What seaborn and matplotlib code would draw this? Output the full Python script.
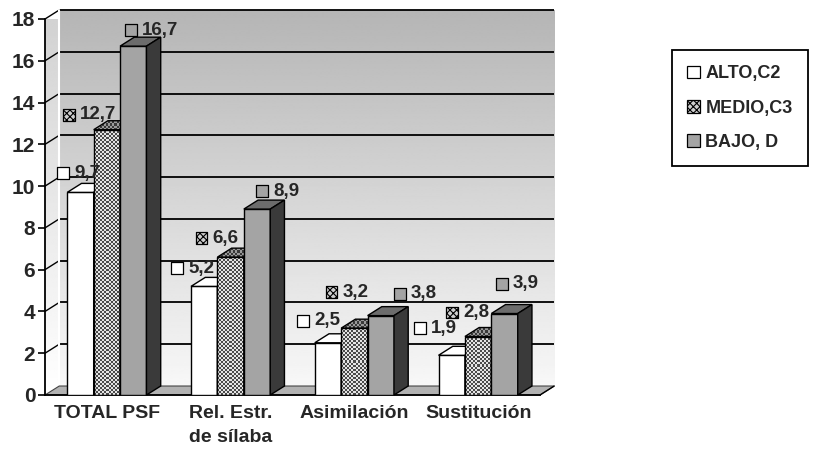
import numpy as np
import pandas as pd
import matplotlib
matplotlib.use("Agg")
import matplotlib.pyplot as plt
import seaborn as sns
from matplotlib.patches import Polygon, Patch
from matplotlib.transforms import ScaledTranslation

# ---- data -------------------------------------------------------------
categories = ["TOTAL PSF", "Rel. Estr.\nde sílaba", "Asimilación", "Sustitución"]
series = ["ALTO,C2", "MEDIO,C3", "BAJO, D"]
alto = [9.7, 5.2, 2.5, 1.9]
medio = [12.7, 6.6, 3.2, 2.8]
bajo = [16.7, 8.9, 3.8, 3.9]
y_ticks = [0, 2, 4, 6, 8, 10, 12, 14, 16, 18]

# label nudges (pixels: right, up) of the marker square relative to bar top
label_nudge = {
    "ALTO,C2": [(-17, 19), (-27, 18), (-25, 22), (-32, 27)],
    "MEDIO,C3": [(-38, 15), (-29, 19), (-23, 36), (-26, 24)],
    "BAJO, D": [(-2, 16), (5, 18), (19, 22), (-3, 30)],
}

values = {"ALTO,C2": alto, "MEDIO,C3": medio, "BAJO, D": bajo}
df = pd.DataFrame(
    [(c, s, values[s][i]) for s in series for i, c in enumerate(categories)],
    columns=["categoria", "serie", "valor"],
)

# ---- style ------------------------------------------------------------
sns.set_theme(style="white")
plt.rcParams["font.family"] = ["Liberation Sans", "DejaVu Sans"]
plt.rcParams["font.weight"] = "bold"
plt.rcParams["hatch.linewidth"] = 0.8
plt.rcParams["hatch.color"] = "black"

face = {"ALTO,C2": "white", "MEDIO,C3": "#bdbdbd", "BAJO, D": "#a4a4a4"}
top_face = {"ALTO,C2": "white", "MEDIO,C3": "#777777", "BAJO, D": "#6c6c6c"}
side_face = {"ALTO,C2": "#d8d8d8", "MEDIO,C3": "#555555", "BAJO, D": "#3a3a3a"}
checker = {"MEDIO,C3": ("#4a4a4a", "#e4e4e4")}
checker_top = {"MEDIO,C3": ("#3a3a3a", "#9a9a9a")}

DX, DY = 0.115, 0.43          # depth offset of the pseudo-3D walls/bars
XL, XR, YMAX = -0.5, 3.5, 18

fig = plt.figure(figsize=(8.27, 4.59), dpi=100)
ax = fig.add_axes([45 / 827, 64 / 459, 495 / 827, 376 / 459])

# ---- bars (front faces) -------------------------------------------------
sns.barplot(
    data=df, x="categoria", y="valor", hue="serie",
    order=categories, hue_order=series,
    palette=[face[s] for s in series], saturation=1,
    width=0.64, gap=0, edgecolor="black", linewidth=1.0,
    legend=False, ax=ax, zorder=3,
)
ax.set_xlim(XL, XR)
ax.set_ylim(0, YMAX)

PX_X = 495 / (XR - XL)     # pixels per category unit
PX_Y = 376 / YMAX          # pixels per value unit


def checker_fill(patch, extent, colors, z):
    """Fill a patch with a fine two-pixel dither pattern."""
    x0, x1, y0, y1 = extent
    nx = max(2, int(round((x1 - x0) * PX_X / 2)))
    ny = max(2, int(round((y1 - y0) * PX_Y / 2)))
    grid = (np.add.outer(np.arange(ny), np.arange(nx)) % 2).astype(float)
    cmap = matplotlib.colors.ListedColormap(list(colors))
    im = ax.imshow(grid, extent=(x0, x1, y0, y1), origin="lower", aspect="auto",
                   cmap=cmap, vmin=0, vmax=1, interpolation="nearest", zorder=z)
    im.set_clip_path(patch)
    return im


# ---- back wall with vertical gradient ------------------------------------
grad = np.linspace(0.71, 0.97, 256)[:, None]
wall = ax.imshow(grad, extent=(XL + DX, XR + DX, DY, YMAX + DY), origin="upper",
                 aspect="auto", cmap="gray", vmin=0, vmax=1, zorder=0.5,
                 interpolation="bilinear")
wall.set_clip_on(False)
grad = np.linspace(0.82, 1.0, 256)[:, None]
side_img = ax.imshow(grad, extent=(XL, XL + DX, 0, YMAX + DY), origin="upper",
                     aspect="auto", cmap="gray", vmin=0, vmax=1, zorder=0.6,
                     interpolation="bilinear")
side_poly = Polygon([(XL, 0), (XL + DX, DY), (XL + DX, YMAX + DY), (XL, YMAX)],
                    closed=True, transform=ax.transData, facecolor="none",
                    edgecolor="none")
ax.add_patch(side_poly)
side_img.set_clip_path(side_poly)

# floor
ax.add_patch(Polygon([(XL, 0), (XR, 0), (XR + DX, DY), (XL + DX, DY)], closed=True,
                     facecolor="#b2b2b2", edgecolor="#444444", linewidth=0.8,
                     zorder=1.5, clip_on=False))

# grid lines on back wall and side wall
for v in y_ticks[1:]:
    ax.plot([XL + DX, XR + DX], [v + DY, v + DY], color="black", lw=1.3,
            zorder=1, clip_on=False, solid_capstyle="butt")
    ax.plot([XL, XL + DX], [v, v + DY], color="black", lw=1.0,
            zorder=1, clip_on=False)
ax.plot([XL + DX, XL + DX], [DY, YMAX + DY], color="white", lw=1.5, zorder=1.2,
        clip_on=False)

# ---- 3D tops / sides and value labels ----------------------------------
for j, (s, cont) in enumerate(zip(series, ax.containers)):
    z = 3 + j
    for i, rect in enumerate(cont):
        rect.set_zorder(z + 0.05)
        x0, w, h = rect.get_x(), rect.get_width(), rect.get_height()
        top = Polygon([(x0, h), (x0 + w, h), (x0 + w + DX, h + DY), (x0 + DX, h + DY)],
                      closed=True, facecolor=top_face[s], edgecolor="black",
                      linewidth=1.0, zorder=z + 0.05, clip_on=False)
        side = Polygon([(x0 + w, 0), (x0 + w + DX, DY), (x0 + w + DX, h + DY), (x0 + w, h)],
                       closed=True, facecolor=side_face[s], edgecolor="black",
                       linewidth=1.0, zorder=z + 0.05, clip_on=False)
        ax.add_patch(top)
        ax.add_patch(side)
        if s in checker:
            checker_fill(rect, (x0, x0 + w, 0, h), checker[s], z)
            checker_fill(top, (x0, x0 + w + DX, h, h + DY), checker_top[s], z)
            checker_fill(side, (x0 + w, x0 + w + DX, 0, h + DY), checker_top[s], z)
            for p in (rect, top, side):
                p.set_facecolor("none")

        nx, ny = label_nudge[s][i]
        cx = x0 + w / 2
        off = ScaledTranslation(nx / 100, ny / 100, fig.dpi_scale_trans)
        sq = ax.scatter([cx], [h], marker="s", s=70, facecolor=face[s] if s != "MEDIO,C3" else "#cfcfcf",
                        edgecolor="black", linewidths=0.9, zorder=20,
                        transform=ax.transData + off, clip_on=False)
        if s in checker:
            sq.set_hatch("xxxxx")
        toff = ScaledTranslation((nx + 11) / 100, ny / 100, fig.dpi_scale_trans)
        ax.text(cx, h, f"{values[s][i]:.1f}".replace(".", ","), transform=ax.transData + toff,
                ha="left", va="center", fontsize=13.5, fontweight="bold", zorder=21,
                clip_on=False)

# ---- axes ----------------------------------------------------------------
ax.set_xlim(XL, XR)
ax.set_ylim(0, YMAX)
ax.set_yticks(y_ticks)
ax.set_yticklabels([str(t) for t in y_ticks], fontsize=15, fontweight="bold")
ax.set_xticks(range(len(categories)))
ax.set_xticklabels(categories, fontsize=14, fontweight="bold", linespacing=1.55)
ax.set_xticks([XL + k for k in range(len(categories) + 1)], minor=True)
ax.tick_params(axis="x", which="major", length=0, pad=7)
ax.tick_params(axis="x", which="minor", length=5, width=1.2, color="black", direction="out")
ax.tick_params(axis="y", length=5, width=1.2, color="black", direction="out", pad=2,
               left=True)
ax.set_xlabel("")
ax.set_ylabel("")
ax.patch.set_visible(False)
for side_name in ("top", "right"):
    ax.spines[side_name].set_visible(False)
for side_name in ("left", "bottom"):
    ax.spines[side_name].set_color("black")
    ax.spines[side_name].set_linewidth(1.3)
    ax.spines[side_name].set_zorder(2)
# right edge of the floor
ax.plot([XR, XR + DX], [0, DY], color="black", lw=1.0, zorder=2, clip_on=False)

# ---- legend --------------------------------------------------------------
handles = [
    Patch(facecolor="white", edgecolor="black", linewidth=0.9),
    Patch(facecolor="#cfcfcf", edgecolor="black", linewidth=0.9, hatch="xxxxx"),
    Patch(facecolor="#a4a4a4", edgecolor="black", linewidth=0.9),
]
leg = fig.legend(handles, series, loc="upper left", bbox_to_anchor=(672 / 827, 1 - 50 / 459),
                 frameon=True, fancybox=False, edgecolor="black", framealpha=1,
                 handlelength=0.7, handleheight=0.7, handletextpad=0.3,
                 labelspacing=0.95, borderpad=0.85, borderaxespad=0,
                 prop={"weight": "bold", "size": 13})
leg.get_frame().set_linewidth(1.3)

fig.savefig("out.png", dpi=100)
